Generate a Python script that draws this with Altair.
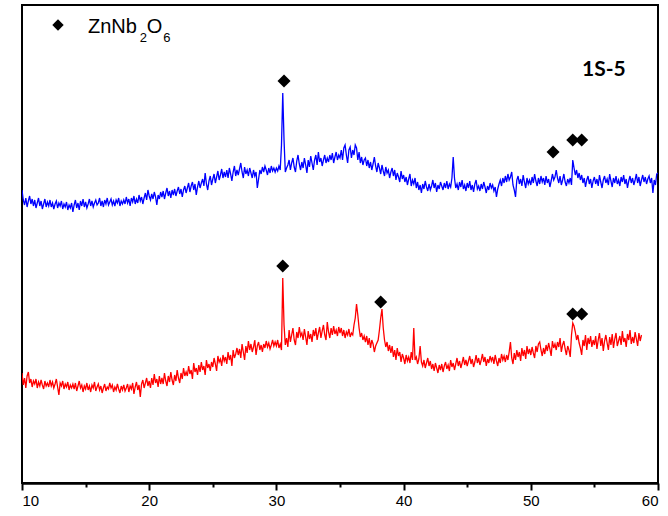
import altair as alt
import numpy as np
import pandas as pd

# 2-theta grid: start 10.0 deg, step 0.1 deg (one row = 1 deg)
blue_intensity = [
    293, 283, 278, 285, 276, 282, 287, 279, 284, 277,
    283, 275, 280, 285, 277, 282, 274, 279, 284, 276,
    281, 277, 283, 276, 280, 274, 279, 282, 275, 280,
    277, 282, 274, 279, 276, 281, 273, 278, 275, 280,
    271, 278, 283, 275, 280, 273, 282, 277, 284, 276,
    281, 275, 279, 284, 277, 282, 276, 280, 283, 278,
    280, 285, 277, 282, 276, 283, 279, 285, 278, 281,
    284, 278, 282, 277, 283, 280, 285, 277, 282, 279,
    283, 279, 286, 280, 284, 277, 285, 281, 287, 279,
    284, 280, 288, 282, 286, 279, 285, 290, 283, 293,
    287, 283, 289, 284, 291, 286, 278, 288, 284, 291,
    286, 292, 284, 290, 295, 287, 292, 285, 293, 288,
    294, 287, 292, 296, 289, 294, 286, 293, 297, 290,
    295, 300, 291, 297, 301, 293, 299, 288, 296, 302,
    295, 300, 304, 297, 310, 299, 293, 302, 307, 298,
    304, 309, 300, 306, 312, 303, 308, 314, 305, 311,
    306, 313, 305, 315, 309, 302, 311, 317, 307, 313,
    308, 314, 320, 311, 305, 316, 309, 313, 307, 315,
    310, 305, 313, 307, 311, 295, 304, 313, 309, 316,
    311, 317, 313, 308, 315, 310, 317, 312, 315, 311,
    315, 312, 317, 313, 338, 390, 343, 311, 315, 318,
    323, 313, 320, 325, 316, 311, 322, 328, 319, 313,
    321, 315, 325, 318, 310, 323, 316, 327, 320, 313,
    323, 328, 318, 331, 321, 325, 317, 323, 328, 320,
    325, 321, 328, 323, 330, 320, 326, 331, 323, 328,
    325, 333, 323, 335, 338, 328, 320, 333, 336, 325,
    333, 328, 338, 335, 323, 331, 320, 326, 318, 323,
    325, 317, 323, 315, 321, 313, 319, 326, 317, 311,
    320, 315, 309, 318, 312, 307, 316, 310, 313, 305,
    311, 315, 307, 313, 303, 310, 306, 301, 312, 304,
    308, 301, 306, 298, 304, 309, 297, 303, 299, 305,
    295, 301, 293, 298, 290, 299, 294, 302, 296, 292,
    299, 293, 297, 303, 295, 300, 291, 298, 294, 301,
    297, 293, 300, 295, 302, 294, 299, 296, 305, 326,
    305, 295, 299, 293, 301, 296, 303, 294, 298, 292,
    300, 295, 302, 293, 298, 291, 299, 303, 294, 297,
    292, 299, 294, 301, 296, 290, 297, 293, 300, 295,
    298, 292, 296, 286, 294, 299, 303, 297, 305, 300,
    307, 301, 309, 303, 306, 311, 298, 293, 286, 303,
    307, 299, 304, 297, 308, 301, 295, 305, 299, 303,
    298, 306, 300, 309, 302, 297, 305, 299, 307, 301,
    305, 298, 307, 300, 304, 296, 302, 309, 303, 306,
    313, 305, 300, 307, 298, 303, 309, 301, 297, 304,
    300, 305, 298, 323, 315, 308, 313, 305, 310, 303,
    308, 300, 305, 296, 303, 307, 299, 304, 295, 302,
    306, 299, 304, 297, 308, 301, 295, 303, 307, 300,
    304, 298, 309, 302, 296, 305, 300, 307, 299, 303,
    297, 306, 301, 308, 299, 304, 295, 302, 307, 300,
    305, 298, 303, 309, 300, 306, 297, 303, 308, 301,
    306, 299, 304, 307, 300, 305, 290, 303, 298, 309,
    310,
]

red_intensity = [
    110, 98, 105, 95, 107, 111, 100, 104, 96, 102,
    99, 104, 95, 101, 97, 103, 98, 94, 102, 97,
    100, 96, 103, 97, 101, 95, 99, 104, 96, 88,
    100, 97, 102, 94, 99, 96, 101, 93, 98, 95,
    99, 94, 100, 92, 97, 102, 95, 98, 91, 97,
    94, 100, 93, 97, 91, 98, 95, 101, 92, 96,
    99, 93, 97, 90, 95, 99, 92, 96, 94, 100,
    95, 98, 91, 96, 93, 99, 94, 90, 97, 93,
    98, 92, 95, 99, 91, 97, 94, 100, 89, 96,
    101, 93, 98, 86, 99, 103, 95, 100, 105, 97,
    102, 95, 105, 98, 109, 100, 104, 96, 107, 99,
    105, 99, 110, 102, 97, 107, 101, 111, 103, 98,
    108, 102, 113, 105, 100, 110, 104, 115, 107, 111,
    107, 117, 109, 113, 104, 120, 111, 115, 108, 118,
    111, 121, 113, 117, 108, 123, 115, 119, 112, 121,
    116, 125, 119, 112, 127, 121, 124, 117, 128, 122,
    126, 119, 131, 123, 128, 117, 133, 125, 129, 135,
    128, 134, 125, 139, 131, 123, 137, 130, 142, 133,
    139, 131, 136, 143, 128, 137, 141, 133, 138, 131,
    139, 135, 142, 136, 140, 134, 138, 143, 137, 141,
    137, 143, 135, 139, 133, 205, 158, 138, 145, 136,
    153, 141, 148, 155, 143, 138, 151, 145, 156, 147,
    150, 143, 154, 146, 138, 152, 144, 149, 141, 153,
    147, 155, 143, 150, 156, 145, 152, 158, 148, 143,
    161, 151, 145, 155, 148, 157, 149, 153, 147, 156,
    150, 155, 147, 153, 145, 151, 148, 154, 146, 150,
    148, 158, 165, 179, 168, 155, 146, 150, 143, 147,
    141, 147, 138, 145, 135, 143, 139, 131, 137, 140,
    143, 153, 165, 174, 155, 143, 136, 141, 132, 138,
    130, 137, 126, 133, 123, 135, 127, 131, 121, 129,
    125, 119, 128, 122, 126, 120, 131, 123, 155, 123,
    126, 119, 124, 137, 121, 117, 123, 115, 120, 125,
    117, 122, 114, 119, 112, 120, 115, 110, 118, 113,
    119, 111, 117, 121, 114, 118, 112, 123, 116, 120,
    113, 119, 125, 117, 122, 115, 120, 126, 118, 123,
    117, 122, 127, 119, 124, 116, 121, 128, 120, 125,
    118, 123, 129, 121, 126, 117, 124, 120, 127, 122,
    126, 119, 128, 122, 117, 125, 120, 129, 123, 127,
    121, 128, 123, 131, 141, 125, 119, 130, 123, 133,
    126, 131, 122, 135, 127, 133, 124, 137, 129, 134,
    128, 136, 130, 125, 137, 131, 139, 141, 133, 127,
    135, 129, 138, 132, 140, 134, 127, 142, 135, 139,
    133, 141, 136, 145, 131, 138, 142, 134, 128, 137,
    133, 126, 148, 160, 157, 151, 143, 148, 140, 135,
    128, 143, 137, 148, 133, 145, 139, 147, 136, 143,
    138, 147, 134, 143, 150, 137, 145, 132, 142, 148,
    140, 133, 146, 138, 149, 135, 144, 150, 137, 142,
    147, 138, 152, 141, 145, 136, 149, 143, 153, 139,
    146, 140, 151, 144, 137, 150, 142, 148,
]

marker_theta = [30.6, 51.75, 53.3, 54.0, 30.5, 38.2, 53.3, 54.0]
marker_intensity = [402, 331, 343, 343, 217, 181, 169, 169]

grid_start = 10.0
grid_step = 0.1

blue_theta = np.round(grid_start + grid_step * np.arange(len(blue_intensity)), 2)
red_theta = np.round(grid_start + grid_step * np.arange(len(red_intensity)), 2)

lines = pd.concat([
    pd.DataFrame({"t": blue_theta, "I": blue_intensity, "s": "1S-5 top"}),
    pd.DataFrame({"t": red_theta, "I": red_intensity, "s": "1S-5 bottom"}),
])
markers = pd.DataFrame({"t": marker_theta, "I": marker_intensity})

xscale = alt.Scale(domain=[10, 60], nice=False, zero=False)
yscale = alt.Scale(domain=[0, 478], nice=False, zero=False)

line_layer = alt.Chart(lines).mark_line(strokeWidth=1.3, clip=True).encode(
    x=alt.X("t:Q", scale=xscale,
            axis=alt.Axis(values=[10, 20, 30, 40, 50, 60], title=None, tickSize=7,
                          labelPadding=3, orient="bottom")),
    y=alt.Y("I:Q", scale=yscale, axis=None),
    color=alt.Color("s:N", scale=alt.Scale(domain=["1S-5 top", "1S-5 bottom"],
                                           range=["#0000ff", "#ff0000"]), legend=None),
    detail="s:N",
)

marker_layer = alt.Chart(markers).mark_point(shape="diamond", filled=True, color="black",
                                             size=170, opacity=1).encode(
    x=alt.X("t:Q", scale=xscale,
            axis=alt.Axis(values=[15, 25, 35, 45, 55], title=None, labels=False,
                          tickSize=4, orient="bottom")),
    y=alt.Y("I:Q", scale=yscale, axis=None),
)

legend_marker = alt.Chart(pd.DataFrame({"t": [12.83], "I": [458]})).mark_point(
    shape="diamond", filled=True, color="black", size=130, opacity=1).encode(
    x=alt.X("t:Q", scale=xscale, axis=None),
    y=alt.Y("I:Q", scale=yscale, axis=None),
)

main_text = pd.DataFrame({"t": [15.19, 19.8], "I": [450, 450], "txt": ["ZnNb", "O"]})
sub_text = pd.DataFrame({"t": [19.25, 21.1], "I": [441, 441], "txt": ["2", "6"]})

legend_main = alt.Chart(main_text).mark_text(align="left", baseline="alphabetic",
                                             font="Liberation Sans", fontSize=20,
                                             color="black").encode(
    x=alt.X("t:Q", scale=xscale, axis=None),
    y=alt.Y("I:Q", scale=yscale, axis=None),
    text="txt:N",
)
legend_sub = alt.Chart(sub_text).mark_text(align="left", baseline="alphabetic",
                                           font="Liberation Sans", fontSize=13,
                                           color="black").encode(
    x=alt.X("t:Q", scale=xscale, axis=None),
    y=alt.Y("I:Q", scale=yscale, axis=None),
    text="txt:N",
)

sample_label = alt.Chart(pd.DataFrame({"t": [55.75], "I": [413], "txt": ["1S-5"]})).mark_text(
    align="center", baseline="middle", font="Lato", fontWeight="bold", fontSize=21,
    color="black").encode(
    x=alt.X("t:Q", scale=xscale, axis=None),
    y=alt.Y("I:Q", scale=yscale, axis=None),
    text="txt:N",
)

chart = alt.layer(
    line_layer, marker_layer, legend_marker, legend_main, legend_sub, sample_label
).resolve_axis(x="independent").properties(
    width=636, height=478,
    autosize=alt.AutoSizeParams(type="none"),
    padding={"left": 22, "top": 5, "right": 10, "bottom": 33},
).configure_view(
    stroke="black", strokeWidth=2
).configure_axis(
    domainColor="black", domainWidth=2, tickColor="black", tickWidth=2,
    labelColor="black", labelFont="Liberation Sans", labelFontSize=15, grid=False,
)

chart.save("out.html", embed_options={"renderer": "svg", "actions": False})
